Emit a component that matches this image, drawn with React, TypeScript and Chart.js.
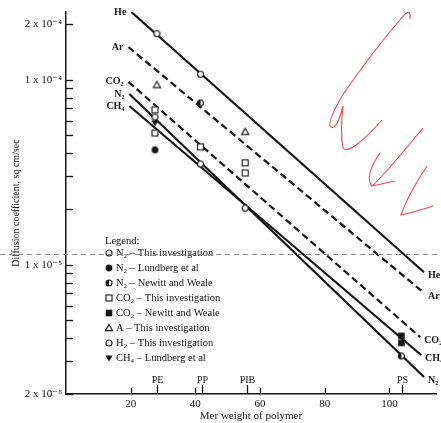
import React, { useEffect, useRef } from 'react';
import { Chart, registerables } from 'chart.js';
Chart.register(...registerables);

const FONT = "'Liberation Serif', 'Times New Roman', 'DejaVu Serif', serif";
const INK = '#151515';

// ---- axes ----
const xMin = 0;
const xMax = 114.4;
const yMin = 2e-6;
const yMax = 2.32e-4;
const xTickValues = [20, 40, 60, 80, 100];
const yTickValues = [2e-6, 3e-6, 4e-6, 5e-6, 6e-6, 7e-6, 8e-6, 9e-6, 1e-5, 2e-5, 3e-5, 4e-5, 5e-5, 6e-5, 7e-5, 8e-5, 9e-5, 1e-4, 2e-4];
const yLabelValues = [2e-6, 1e-5, 1e-4, 2e-4];
const yLabelTexts = ['2 x 10⁻⁶', '1 x 10⁻⁵', '1 x 10⁻⁴', '2 x 10⁻⁴'];
const polymerNames = ['PE', 'PP', 'PIB', 'PS'];
const polymerWeights = [28, 42, 56, 104];

// ---- fitted lines (gas) ----
const lineNames = ['He', 'Ar', 'CO₂', 'N₂', 'CH₄'];
const heLineX = [20.2, 110.7];
const heLineY = [2.32e-4, 9.1e-6];
const arLineX = [19.3, 110.7];
const arLineY = [1.5e-4, 7.03e-6];
const co2LineX = [19.3, 109.5];
const co2LineY = [9.72e-5, 4.06e-6];
const n2LineX = [19.6, 110.7];
const n2LineY = [8.37e-5, 2.47e-6];
const ch4LineX = [19.6, 109.8];
const ch4LineY = [7.2e-5, 3.25e-6];
const lineDashed = [false, true, true, false, false];

// ---- measured points ----
const n2ThisX = [27.5, 41.6, 55.4];
const n2ThisY = [6.28e-5, 3.5e-5, 2.02e-5];
const n2LundX = [27.5];
const n2LundY = [4.17e-5];
const n2NewittX = [41.6, 103.7];
const n2NewittY = [7.48e-5, 3.21e-6];
const co2ThisX = [27.5, 27.5, 41.6, 55.4, 55.4];
const co2ThisY = [6.86e-5, 5.15e-5, 4.33e-5, 3.55e-5, 3.13e-5];
const co2NewittX = [103.7, 103.7];
const co2NewittY = [3.78e-6, 4.12e-6];
const arThisX = [28.1, 55.4];
const arThisY = [9.36e-5, 5.22e-5];
const h2ThisX = [28.1, 41.6];
const h2ThisY = [1.77e-4, 1.07e-4];
const ch4LundX = [27.5];
const ch4LundY = [5.83e-5];

const seriesLabels = [
  'N₂ – This investigation',
  'N₂ – Lundberg et al',
  'N₂ – Newitt and Weale',
  'CO₂ – This investigation',
  'CO₂ – Newitt and Weale',
  'A – This investigation',
  'H₂ – This investigation',
  'CH₄ – Lundberg et al',
];
const seriesMarkers = ['openCircle', 'filledCircle', 'halfCircle', 'openSquare', 'filledSquare', 'openTriangle', 'openCircle', 'downTriangle'];

const scanLineValue = 1.14e-5;

function drawMarker(ctx: CanvasRenderingContext2D, kind: string, cx: number, cy: number) {
  ctx.save();
  ctx.lineWidth = 1.1;
  ctx.strokeStyle = INK;
  ctx.fillStyle = INK;
  const r = 3;
  switch (kind) {
    case 'openCircle':
      ctx.beginPath(); ctx.arc(cx, cy, r, 0, Math.PI * 2);
      ctx.fillStyle = '#fff'; ctx.fill(); ctx.stroke();
      break;
    case 'filledCircle':
      ctx.beginPath(); ctx.arc(cx, cy, 3.4, 0, Math.PI * 2); ctx.fill();
      break;
    case 'halfCircle':
      ctx.beginPath(); ctx.arc(cx, cy, r, 0, Math.PI * 2);
      ctx.fillStyle = '#fff'; ctx.fill(); ctx.stroke();
      ctx.beginPath(); ctx.arc(cx, cy, r, Math.PI / 2, Math.PI * 1.5); ctx.closePath();
      ctx.fillStyle = INK; ctx.fill();
      break;
    case 'openSquare':
      ctx.fillStyle = '#fff'; ctx.fillRect(cx - 3, cy - 3, 6, 6); ctx.strokeRect(cx - 3, cy - 3, 6, 6);
      break;
    case 'filledSquare':
      ctx.fillRect(cx - 3.3, cy - 3.3, 6.6, 6.6);
      break;
    case 'openTriangle':
      ctx.beginPath(); ctx.moveTo(cx, cy - 3.6); ctx.lineTo(cx + 3.6, cy + 2.6); ctx.lineTo(cx - 3.6, cy + 2.6); ctx.closePath();
      ctx.fillStyle = '#fff'; ctx.fill(); ctx.stroke();
      break;
    case 'downTriangle':
      ctx.beginPath(); ctx.moveTo(cx - 3.6, cy - 2.6); ctx.lineTo(cx + 3.6, cy - 2.6); ctx.lineTo(cx, cy + 3.6); ctx.closePath();
      ctx.fill();
      break;
  }
  ctx.restore();
}

function makeStyle(kind: string) {
  const c = document.createElement('canvas');
  c.width = 11; c.height = 11;
  const ctx = c.getContext('2d')!;
  drawMarker(ctx, kind, 5.5, 5.5);
  return c;
}

const zip = (xs: number[], ys: number[]) => xs.map((x, i) => ({ x, y: ys[i] }));

const overlay = {
  id: 'overlay',
  afterDraw(chart: any) {
    const { ctx, chartArea } = chart;
    const x = chart.scales.x;
    const y = chart.scales.y;
    ctx.save();
    ctx.strokeStyle = INK;
    ctx.fillStyle = INK;
    ctx.lineWidth = 1.3;
    // inward y ticks
    for (const v of yTickValues) {
      const py = Math.round(y.getPixelForValue(v)) + 0.5;
      ctx.beginPath(); ctx.moveTo(chartArea.left, py); ctx.lineTo(chartArea.left + 7, py); ctx.stroke();
    }
    // inward x ticks
    for (const v of xTickValues) {
      const px = Math.round(x.getPixelForValue(v)) + 0.5;
      ctx.beginPath(); ctx.moveTo(px, chartArea.bottom); ctx.lineTo(px, chartArea.bottom - 6); ctx.stroke();
    }
    ctx.font = `10px ${FONT}`;
    ctx.textAlign = 'center';
    ctx.textBaseline = 'bottom';
    polymerNames.forEach((name, i) => {
      const px = Math.round(x.getPixelForValue(polymerWeights[i])) + 0.5;
      ctx.beginPath(); ctx.moveTo(px, chartArea.bottom); ctx.lineTo(px, chartArea.bottom - 9); ctx.stroke();
      ctx.fillText(name, px, chartArea.bottom - 9);
    });
    // line labels
    const lx = [heLineX, arLineX, co2LineX, n2LineX, ch4LineX];
    const ly = [heLineY, arLineY, co2LineY, n2LineY, ch4LineY];
    ctx.font = `bold 10px ${FONT}`;
    ctx.textBaseline = 'middle';
    lineNames.forEach((name, i) => {
      ctx.textAlign = 'right';
      ctx.fillText(name, x.getPixelForValue(lx[i][0]) - 5, y.getPixelForValue(ly[i][0]));
      ctx.textAlign = 'left';
      ctx.fillText(name, x.getPixelForValue(lx[i][1]) + 4, y.getPixelForValue(ly[i][1]) + 3);
    });
    // legend
    ctx.font = `10.5px ${FONT}`;
    ctx.textAlign = 'left';
    ctx.textBaseline = 'middle';
    ctx.fillText('Legend:', 105, 241);
    seriesLabels.forEach((lab, i) => {
      const yy = 253 + i * 15;
      drawMarker(ctx, seriesMarkers[i], 109, yy);
      ctx.fillStyle = INK;
      ctx.fillText(lab, 116, yy + 0.5);
    });
    // scan artifact dashed line
    const sy = Math.round(y.getPixelForValue(scanLineValue)) + 0.5;
    ctx.strokeStyle = '#8a8a8a';
    ctx.lineWidth = 1;
    ctx.setLineDash([5, 4]);
    ctx.beginPath(); ctx.moveTo(0, sy); ctx.lineTo(chart.width, sy); ctx.stroke();
    ctx.setLineDash([]);
    // red hand annotations
    ctx.strokeStyle = '#f04848';
    ctx.lineWidth = 1.1;
    ctx.beginPath();
    ctx.moveTo(410, 19); ctx.quadraticCurveTo(411, 9, 405, 14);
    ctx.quadraticCurveTo(372, 52, 342, 96);
    ctx.quadraticCurveTo(326, 124, 331, 127);
    ctx.quadraticCurveTo(337, 130, 343, 106);
    ctx.quadraticCurveTo(340, 132, 343, 148);
    ctx.quadraticCurveTo(350, 156, 382, 120);
    ctx.stroke();
    ctx.beginPath();
    ctx.moveTo(380, 153); ctx.quadraticCurveTo(364, 176, 372, 186);
    ctx.quadraticCurveTo(380, 180, 423, 128);
    ctx.moveTo(372, 186); ctx.lineTo(395, 181);
    ctx.stroke();
    ctx.beginPath();
    ctx.moveTo(427, 166); ctx.quadraticCurveTo(408, 195, 401, 215);
    ctx.quadraticCurveTo(415, 212, 433, 206);
    ctx.stroke();
    ctx.restore();
  },
};

export default function App() {
  const ref = useRef<HTMLCanvasElement | null>(null);
  useEffect(() => {
    const canvas = ref.current!;
    const lineSets = [
      [heLineX, heLineY], [arLineX, arLineY], [co2LineX, co2LineY], [n2LineX, n2LineY], [ch4LineX, ch4LineY],
    ].map(([xs, ys], i) => ({
      label: lineNames[i],
      data: zip(xs as number[], ys as number[]),
      showLine: true,
      borderColor: INK,
      borderWidth: 2.2,
      borderDash: lineDashed[i] ? [7, 4] : [],
      pointRadius: 0,
      order: 2,
    }));
    const pointSeries = [
      [n2ThisX, n2ThisY], [n2LundX, n2LundY], [n2NewittX, n2NewittY], [co2ThisX, co2ThisY],
      [co2NewittX, co2NewittY], [arThisX, arThisY], [h2ThisX, h2ThisY], [ch4LundX, ch4LundY],
    ].map(([xs, ys], i) => ({
      label: seriesLabels[i],
      data: zip(xs as number[], ys as number[]),
      showLine: false,
      pointStyle: makeStyle(seriesMarkers[i]),
      pointRadius: 4,
      order: 1,
    }));
    const chart = new Chart(canvas, {
      type: 'scatter',
      data: { datasets: [...pointSeries, ...lineSets] as any },
      options: {
        animation: false,
        responsive: false,
        devicePixelRatio: 1,
        layout: { padding: { top: 12, right: 1, bottom: 0, left: 0 } },
        plugins: { legend: { display: false }, tooltip: { enabled: false } },
        scales: {
          x: {
            type: 'linear', min: xMin, max: xMax,
            afterBuildTicks: (s: any) => { s.ticks = xTickValues.map((v) => ({ value: v })); },
            afterFit: (s: any) => { s.height = 29; },
            grid: { display: false, drawTicks: false },
            border: { display: true, color: INK, width: 1.5 },
            ticks: { font: { size: 11, family: FONT }, color: INK, padding: 4, maxRotation: 0, autoSkip: false, callback: (v: any) => String(v) },
            title: { display: true, text: 'Mer weight of polymer', font: { size: 11, family: FONT }, color: INK, padding: { top: 0, bottom: 0 } },
          },
          y: {
            type: 'logarithmic', min: yMin, max: yMax,
            afterBuildTicks: (s: any) => { s.ticks = yTickValues.map((v) => ({ value: v })); },
            afterFit: (s: any) => { s.width = 66; },
            grid: { display: false, drawTicks: false },
            border: { display: true, color: INK, width: 1.5 },
            ticks: {
              font: { size: 11, family: FONT }, color: INK, padding: 4, autoSkip: false,
              callback: (v: any) => {
                const k = yLabelValues.findIndex((t) => Math.abs(t - v) / t < 1e-6);
                return k >= 0 ? yLabelTexts[k] : '';
              },
            },
            title: { display: true, text: 'Diffusion coefficient, sq cm/sec', font: { size: 10, family: FONT }, color: INK, padding: { top: 10, bottom: 0 } },
          },
        },
      },
      plugins: [overlay],
    } as any);
    return () => chart.destroy();
  }, []);
  return (
    <div style={{ position: 'fixed', left: 0, top: 0, width: 441, height: 423, background: '#fff' }}>
      <canvas ref={ref} width={441} height={423} />
    </div>
  );
}
